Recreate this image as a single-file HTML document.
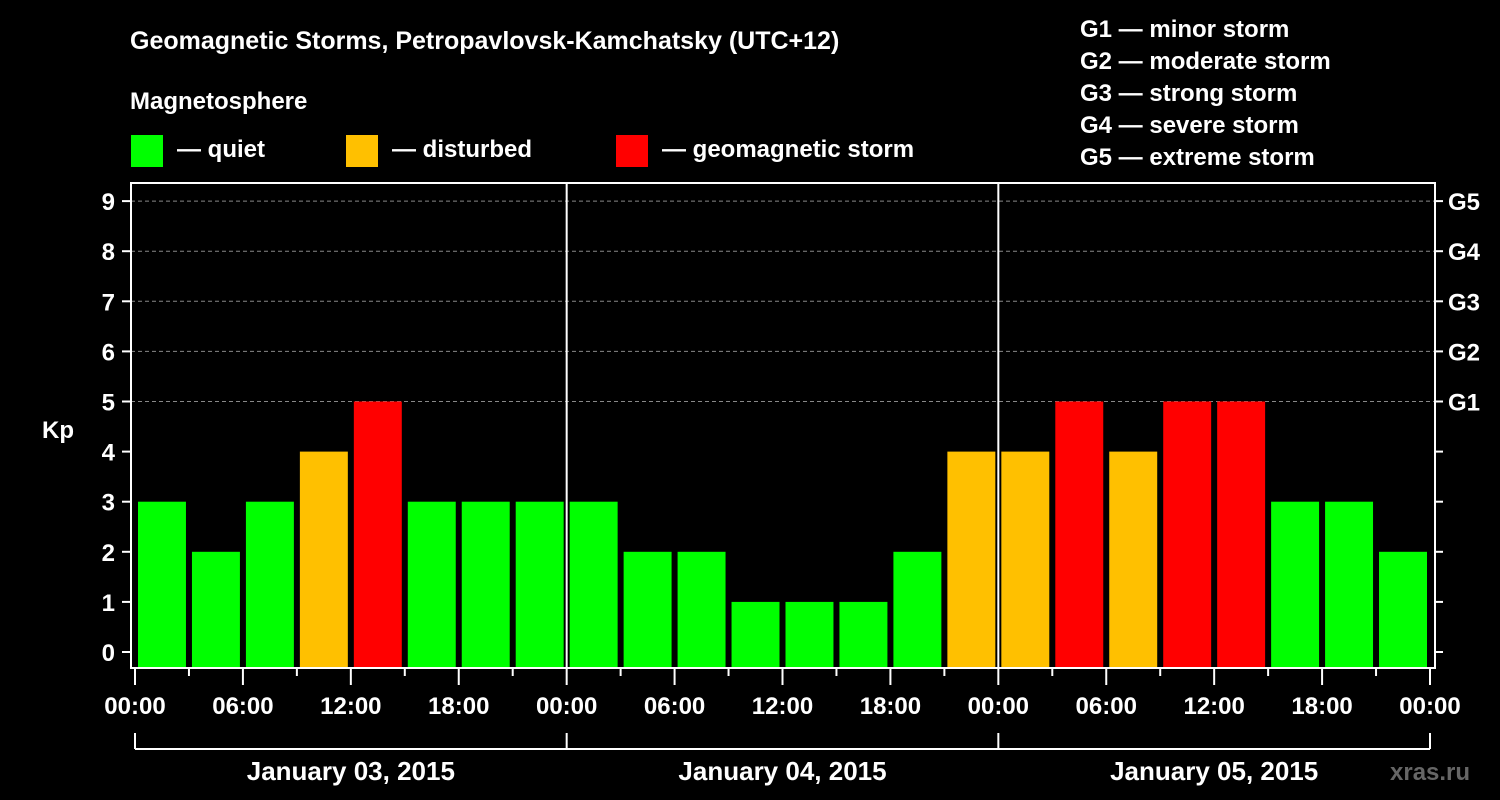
<!DOCTYPE html>
<html><head><meta charset="utf-8"><style>
body{margin:0;background:#000;}
svg{display:block;font-family:"Liberation Sans",sans-serif;font-weight:bold;}
</style></head><body>
<svg id="c" width="1500" height="800" xmlns="http://www.w3.org/2000/svg">
<rect width="1500" height="800" fill="#000"/>
<text x="130" y="49" fill="#fff" font-size="25">Geomagnetic Storms, Petropavlovsk-Kamchatsky (UTC+12)</text>
<text x="130" y="109" fill="#fff" font-size="24">Magnetosphere</text>
<g><rect x="131" y="135" width="32" height="32" fill="#00ff00"/><text x="177" y="157" fill="#fff" font-size="24">— quiet</text></g>
<g><rect x="346" y="135" width="32" height="32" fill="#ffc000"/><text x="392" y="157" fill="#fff" font-size="24">— disturbed</text></g>
<g><rect x="616" y="135" width="32" height="32" fill="#ff0000"/><text x="662" y="157" fill="#fff" font-size="24">— geomagnetic storm</text></g>
<g fill="#fff" font-size="24">
<text x="1080" y="37">G1 — minor storm</text>
<text x="1080" y="69">G2 — moderate storm</text>
<text x="1080" y="101">G3 — strong storm</text>
<text x="1080" y="133">G4 — severe storm</text>
<text x="1080" y="165">G5 — extreme storm</text>
</g>
<text x="42" y="438" fill="#fff" font-size="24">Kp</text>
<text x="1390" y="780" fill="#666" font-size="24">xras.ru</text>
<g id="plot"></g>
</svg>
<script>
const kpValues=[3,2,3,4,5,3,3,3, 3,2,2,1,1,1,2,4, 4,5,4,5,5,3,3,2];
const yTicks=[0,1,2,3,4,5,6,7,8,9];
const gLabels=["G1","G2","G3","G4","G5"];
const gLevels=[5,6,7,8,9];
const xTickLabels=["00:00","06:00","12:00","18:00","00:00","06:00","12:00","18:00","00:00","06:00","12:00","18:00","00:00"];
const dayLabels=["January 03, 2015","January 04, 2015","January 05, 2015"];

const NS="http://www.w3.org/2000/svg";
const g=document.getElementById('plot');
const L=131,R=1435,T=183,B=668,X0=135,X1=1430;
const nBars=kpValues.length;
const xs=i=>X0+(X1-X0)*i/nBars;
const ys=v=>652-v*50.1;
function mk(t,a,p){const e=document.createElementNS(NS,t);for(const k in a)e.setAttribute(k,a[k]);(p||g).appendChild(e);return e;}
// grid
gLevels.forEach((v,i)=>{
 const l=mk('line',{x1:L,x2:R,y1:ys(v),y2:ys(v),stroke:'#888','stroke-dasharray':'4,3','stroke-width':1});
 
 
 const t=mk('text',{x:1448,y:ys(v)+9,fill:'#fff','font-size':24});
 t.textContent=gLabels[i];
 
 
});
// bars
kpValues.forEach((v,i)=>{
 const col=v>=5?'#ff0000':v>=4?'#ffc000':'#00ff00';
 const r=mk('rect',{x:xs(i)+3,y:ys(v),width:(X1-X0)/nBars-6,height:B-ys(v),fill:col});
 
 
});
// day dividers
[1,2].forEach(d=>{const l=mk('line',{x1:xs(d*8),x2:xs(d*8),y1:T,y2:B,stroke:'#fff','stroke-width':2});
 
 });
// frame
const f=mk('rect',{x:L,y:T,width:R-L,height:B-T,fill:'none',stroke:'#fff','stroke-width':2});


// y ticks
yTicks.forEach(v=>{
 mk('line',{x1:L-9,x2:L,y1:ys(v),y2:ys(v),stroke:'#fff','stroke-width':2});
 mk('line',{x1:R,x2:R+8,y1:ys(v),y2:ys(v),stroke:'#fff','stroke-width':2});
 const t=mk('text',{x:L-16,y:ys(v)+9,fill:'#fff','font-size':24,'text-anchor':'end'});
 t.textContent=v;
 
 
});
// x ticks
for(let i=0;i<=nBars;i++){
 const major=i%2===0;
 mk('line',{x1:xs(i),x2:xs(i),y1:B,y2:B+(major?17:8),stroke:'#fff','stroke-width':2});
}
xTickLabels.forEach((s,i)=>{
 const t=mk('text',{x:xs(i*2),y:714,fill:'#fff','font-size':24,'text-anchor':'middle'});
 t.textContent=s;
 
 
});
// day bracket
mk('line',{x1:X0,x2:X1,y1:749,y2:749,stroke:'#fff','stroke-width':2});
for(let d=0;d<=dayLabels.length;d++)mk('line',{x1:xs(d*8),x2:xs(d*8),y1:733,y2:749,stroke:'#fff','stroke-width':2});
dayLabels.forEach((s,d)=>{
 const t=mk('text',{x:(xs(d*8)+xs(d*8+8))/2,y:780,fill:'#fff','font-size':26,'text-anchor':'middle'});
 t.textContent=s;
 
 
});
</script>
</body></html>
